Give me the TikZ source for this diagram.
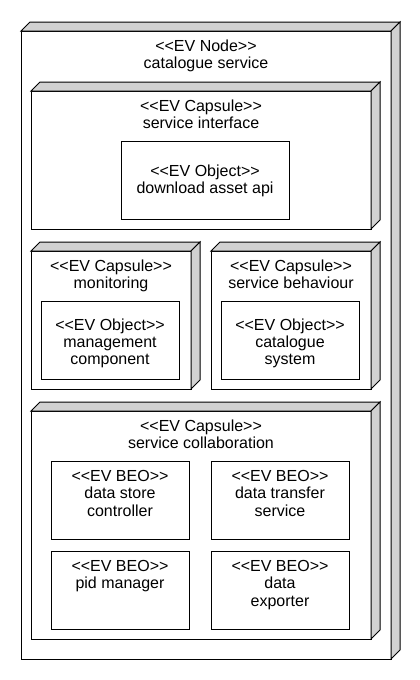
\documentclass[tikz,border=0pt]{standalone}
\usepackage{fontspec}
\setmainfont{Liberation Sans}
\usepackage{tikz}
\usetikzlibrary{positioning}

\newcommand{\stereo}[1]{<\kern0pt<#1>\kern0pt>}

\begin{document}
\begin{tikzpicture}[
    x=1pt, y=-1pt,
    font=\fontsize{16}{17.2}\selectfont,
    cube/.style={rectangle, draw, fill=white, line width=1pt, inner sep=0pt, outer sep=0pt},
    objbox/.style={rectangle, draw, fill=white, line width=1pt, minimum width=138pt, minimum height=78pt, outer sep=0pt},
    title/.style={align=center, inner sep=0pt},
    face/.style={draw, fill=gray!35, line width=1pt, line join=miter},
]
    \useasboundingbox (0,0) rectangle (420,680);

    % Node
    \node[cube, minimum width=370pt, minimum height=628pt] (evnode) at (206,345) {};
    \node[title, below=9pt of evnode.north] (evnodet) {\stereo{EV Node}\\catalogue service};

    % Capsules
    \node[cube, minimum width=340pt, minimum height=138pt] (sint) at (201,160) {};
    \node[cube, minimum width=160pt, minimum height=138pt] (mon) at (111,320) {};
    \node[cube, minimum width=160pt, minimum height=138pt] (sbeh) at (291,320) {};
    \node[cube, minimum width=340pt, minimum height=228pt] (scol) at (201,525) {};
    \node[title, below=9pt of sint.north] (sintt) {\stereo{EV Capsule}\\service interface};
    \node[title, below=8.5pt of mon.north] (mont) {\stereo{EV Capsule}\\monitoring};
    \node[title, below=8.5pt of sbeh.north] (sbeht) {\stereo{EV Capsule}\\service behaviour};
    \node[title, below=9pt of scol.north] (scolt) {\stereo{EV Capsule}\\service collaboration};

    % Objects
    \node[objbox, minimum width=168pt] (dlapi) at (205,180) {};
    \node[objbox] (mgmt) at (110,340) {};
    \node[objbox] (catsys) at (290,340) {};
    \node[title, below=24pt of dlapi.north] (dlapit) {\stereo{EV Object}\\download asset api};
    \node[title, below=17.5pt of mgmt.north] (mgmtt) {\stereo{EV Object}\\management\\component};
    \node[title, below=17.5pt of catsys.north] (catsyst) {\stereo{EV Object}\\catalogue\\system};

    % BEOs
    \node[objbox] (dsc) at (120,500) {};
    \node[objbox] (dts) at (280,500) {};
    \node[objbox] (pid) at (120,590) {};
    \node[objbox] (dexp) at (280,590) {};
    \node[title, below=9.3pt of dsc.north] (dsct) {\stereo{EV BEO}\\data store\\controller};
    \node[title, below=9.3pt of dts.north] (dtst) {\stereo{EV BEO}\\data transfer\\service};
    \node[title, below=9.3pt of pid.north] (pidt) {\stereo{EV BEO}\\pid manager};
    \node[title, below=9.3pt of dexp.north] (dexpt) {\stereo{EV BEO}\\data\\exporter};

    % Depth faces
    \foreach \n in {evnode, sint, mon, sbeh, scol} {
        \draw[face] (\n.north west) -- ++(9,-9) -- ([shift={(9,-9)}]\n.north east) -- (\n.north east) -- cycle;
        \draw[face] (\n.north east) -- ++(9,-9) -- ([shift={(9,-9)}]\n.south east) -- (\n.south east) -- cycle;
    }
\end{tikzpicture}
\end{document}
